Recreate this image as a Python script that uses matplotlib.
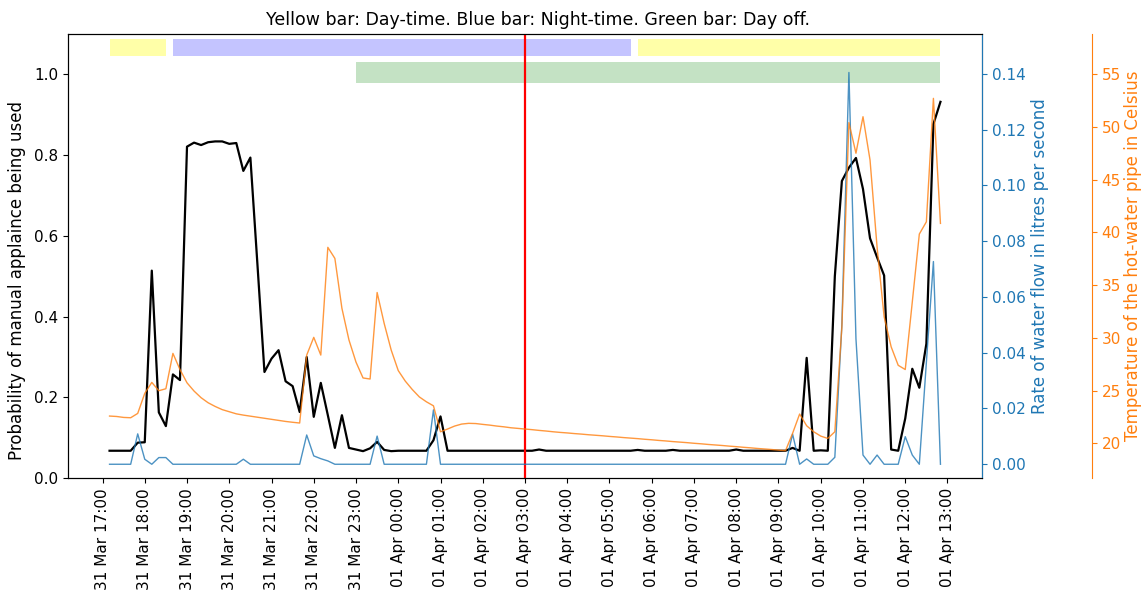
import matplotlib
matplotlib.use("Agg")
import matplotlib.pyplot as plt
import matplotlib.dates as mdates
import pandas as pd
import numpy as np

start_time = "2019-03-31 17:10"
n_points = 119
step = "10min"

prob_manual = [
    0.068, 0.068, 0.068, 0.068, 0.088, 0.089, 0.514, 0.163, 0.129, 0.257,
    0.243, 0.821, 0.831, 0.825, 0.832, 0.834, 0.834, 0.828, 0.830, 0.761,
    0.794, 0.530, 0.263, 0.296, 0.317, 0.240, 0.228, 0.164, 0.300, 0.152,
    0.236, 0.156, 0.075, 0.156, 0.075, 0.071, 0.067, 0.074, 0.090, 0.070,
    0.067, 0.068, 0.068, 0.068, 0.068, 0.068, 0.094, 0.153, 0.068, 0.068,
    0.068, 0.068, 0.068, 0.068, 0.068, 0.068, 0.068, 0.068, 0.068, 0.068,
    0.068, 0.071, 0.068, 0.068, 0.068, 0.068, 0.068, 0.068, 0.068, 0.068,
    0.068, 0.068, 0.068, 0.068, 0.068, 0.070, 0.068, 0.068, 0.068, 0.068,
    0.070, 0.068, 0.068, 0.068, 0.068, 0.068, 0.068, 0.068, 0.068, 0.071,
    0.068, 0.068, 0.068, 0.068, 0.068, 0.068, 0.068, 0.075, 0.068, 0.298,
    0.068, 0.069, 0.068, 0.500, 0.736, 0.769, 0.793, 0.716, 0.594, 0.547,
    0.502, 0.071, 0.068, 0.148, 0.271, 0.224, 0.333, 0.877, 0.932,
]

water_flow = [
    0.0, 0.0, 0.0, 0.0, 0.0109, 0.0018, 0.0, 0.0024, 0.0024, 0.0,
    0.0, 0.0, 0.0, 0.0, 0.0, 0.0, 0.0, 0.0, 0.0, 0.0018,
    0.0, 0.0, 0.0, 0.0, 0.0, 0.0, 0.0, 0.0, 0.0105, 0.0030,
    0.0020, 0.0012, 0.0, 0.0, 0.0, 0.0, 0.0, 0.0, 0.0101, 0.0,
    0.0, 0.0, 0.0, 0.0, 0.0, 0.0, 0.0195, 0.0, 0.0, 0.0,
    0.0, 0.0, 0.0, 0.0, 0.0, 0.0, 0.0, 0.0, 0.0, 0.0,
    0.0, 0.0, 0.0, 0.0, 0.0, 0.0, 0.0, 0.0, 0.0, 0.0,
    0.0, 0.0, 0.0, 0.0, 0.0, 0.0, 0.0, 0.0, 0.0, 0.0,
    0.0, 0.0, 0.0, 0.0, 0.0, 0.0, 0.0, 0.0, 0.0, 0.0,
    0.0, 0.0, 0.0, 0.0, 0.0, 0.0, 0.0, 0.0108, 0.0, 0.0019,
    0.0, 0.0, 0.0, 0.0025, 0.050, 0.1405, 0.045, 0.0033, 0.0, 0.0033,
    0.0, 0.0, 0.0, 0.0099, 0.0033, 0.0, 0.0365, 0.0727, 0.0,
]

pipe_temp = [
    22.59, 22.55, 22.46, 22.43, 22.84, 24.74, 25.78, 24.99, 25.18, 28.53,
    27.00, 25.74, 24.96, 24.33, 23.85, 23.50, 23.20, 23.00, 22.80, 22.68,
    22.58, 22.48, 22.38, 22.28, 22.18, 22.08, 22.00, 21.93, 28.37, 30.05,
    28.37, 38.58, 37.53, 32.80, 29.80, 27.70, 26.20, 26.10, 34.30, 31.37,
    28.84, 26.90, 25.90, 25.10, 24.40, 23.94, 23.56, 21.10, 21.36, 21.64,
    21.83, 21.90, 21.88, 21.80, 21.73, 21.64, 21.57, 21.48, 21.42, 21.36,
    21.30, 21.23, 21.17, 21.10, 21.04, 20.99, 20.93, 20.88, 20.82, 20.77,
    20.72, 20.66, 20.61, 20.55, 20.50, 20.45, 20.39, 20.34, 20.28, 20.23,
    20.17, 20.12, 20.07, 20.01, 19.96, 19.90, 19.85, 19.80, 19.74, 19.69,
    19.63, 19.58, 19.52, 19.47, 19.42, 19.36, 19.31, 20.95, 22.78, 21.67,
    21.10, 20.69, 20.47, 21.10, 31.00, 50.40, 47.50, 50.96, 46.85, 38.60,
    32.00, 29.15, 27.40, 27.00, 33.40, 39.84, 41.00, 52.70, 40.85,
]

day_spans = [("2019-03-31 17:10", "2019-03-31 18:30"),
             ("2019-04-01 05:40", "2019-04-01 12:50")]
night_spans = [("2019-03-31 18:40", "2019-04-01 05:30")]
dayoff_spans = [("2019-03-31 23:00", "2019-04-01 12:50")]
marker_time = "2019-04-01 03:00"

tick_start = "2019-03-31 17:00"
tick_end = "2019-04-01 13:00"

title_text = "Yellow bar: Day-time. Blue bar: Night-time. Green bar: Day off."
left_label = "Probability of manual applaince being used"
flow_label = "Rate of water flow in litres per second"
temp_label = "Temperature of the hot-water pipe in Celsius"

times = pd.date_range(start_time, periods=n_points, freq=step)

W, H = 1141, 599
fig = plt.figure(figsize=(W / 100, H / 100), dpi=100)
ax = fig.add_axes([68 / W, 1 - 478.2 / H, 914 / W, 444.2 / H])

blue_c = "#1f77b4"
orange_c = "#ff7f0e"

ax.plot(times, prob_manual, color="black", lw=1.6, zorder=5)
ax.set_ylim(0, 1.1)
ax.set_ylabel(left_label, fontsize=12)
ax.yaxis.set_label_coords(-42 / 914, 0.446)

for s, e in day_spans:
    ax.fill_between(pd.to_datetime([s, e]), 1.045, 1.087, color="#FFFFA8", lw=0)
for s, e in night_spans:
    ax.fill_between(pd.to_datetime([s, e]), 1.045, 1.087, color="#C4C4FF", lw=0)
for s, e in dayoff_spans:
    ax.fill_between(pd.to_datetime([s, e]), 0.978, 1.031, color="#C4E2C4", lw=0)

ax.axvline(pd.to_datetime(marker_time), color="red", lw=1.6, zorder=6)

ticks = pd.date_range(tick_start, tick_end, freq="1h")
ax.set_xticks(ticks)
ax.xaxis.set_major_formatter(mdates.DateFormatter("%d %b %H:%M"))
plt.setp(ax.get_xticklabels(), rotation=90, fontsize=11)
plt.setp(ax.get_yticklabels(), fontsize=11)
ax.set_xlim(pd.to_datetime("2019-03-31 16:11"), pd.to_datetime("2019-04-01 13:49"))
fig.text(538 / W, 1 - 20 / H, title_text, fontsize=12.5, ha="center", va="center")

ax2 = ax.twinx()
ax2.plot(times, water_flow, color=blue_c, lw=1.0, alpha=0.8)
ax2.set_ylim(-0.005, 0.1543)
ax2.set_ylabel(flow_label, color=blue_c, fontsize=12)
ax2.tick_params(axis="y", colors=blue_c, labelsize=11)
ax2.spines["right"].set_color(blue_c)
ax2.set_yticks([0.0, 0.02, 0.04, 0.06, 0.08, 0.10, 0.12, 0.14])

ax3 = ax.twinx()
ax3.spines["right"].set_position(("axes", 1.12))
ax3.plot(times, pipe_temp, color=orange_c, lw=1.0, alpha=0.8)
ax3.set_ylim(16.7, 58.8)
ax3.set_ylabel(temp_label, color=orange_c, fontsize=12, labelpad=2)
ax3.tick_params(axis="y", colors=orange_c, labelsize=11)
ax3.spines["right"].set_color(orange_c)
ax3.spines["top"].set_visible(False)
ax3.spines["left"].set_visible(False)
ax3.spines["bottom"].set_visible(False)
ax3.set_yticks([20, 25, 30, 35, 40, 45, 50, 55])

fig.savefig("out.png", dpi=100)
